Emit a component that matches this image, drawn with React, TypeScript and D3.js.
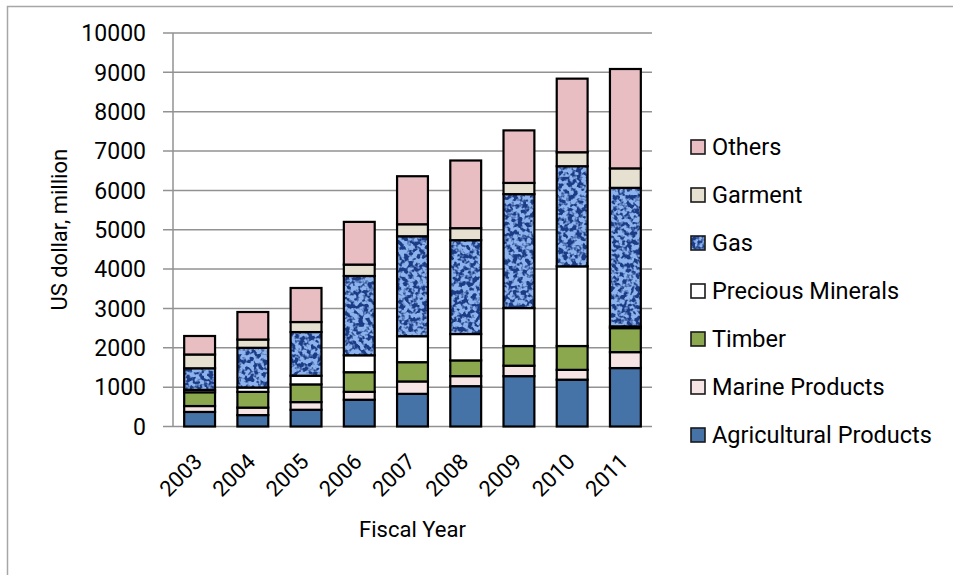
import React from 'react';
import * as d3 from 'd3';

const years = ['2003', '2004', '2005', '2006', '2007', '2008', '2009', '2010', '2011'];
const agricultural = [370, 290, 425, 680, 830, 1025, 1280, 1190, 1485];
const marine = [150, 190, 195, 200, 315, 255, 265, 250, 405];
const timber = [350, 400, 450, 500, 490, 400, 500, 605, 610];
const precious = [60, 110, 220, 430, 660, 670, 965, 2025, 45];
const gas = [550, 1010, 1110, 2015, 2540, 2385, 2895, 2545, 3520];
const garment = [350, 210, 255, 290, 305, 305, 285, 355, 495];
const others = [470, 700, 865, 1085, 1220, 1720, 1335, 1870, 2525];
const yTicks = [0, 1000, 2000, 3000, 4000, 5000, 6000, 7000, 8000, 9000, 10000];

const seriesKeys = ['Agricultural Products', 'Marine Products', 'Timber', 'Precious Minerals', 'Gas', 'Garment', 'Others'];
const seriesValues = [agricultural, marine, timber, precious, gas, garment, others];
const seriesFills = ['#4573a7', '#f7e5e5', '#8ca84f', '#ffffff', 'url(#gas)', '#e6e0d0', '#e9bec2'];

const FONT = 'Roboto, "Open Sans", sans-serif';

export default function App() {
  const left = 173, right = 652, top = 33, bottom = 426.5;
  const x = d3.scaleBand<string>().domain(years).range([left, right]).paddingInner(0.42).paddingOuter(0.21);
  const y = d3.scaleLinear().domain([0, 10000]).range([bottom, top]);

  const table = years.map((yr, i) => {
    const row: any = { year: yr };
    seriesKeys.forEach((k, j) => (row[k] = seriesValues[j][i]));
    return row;
  });
  const stacked = d3.stack<any>().keys(seriesKeys)(table);

  const legendOrder = [...seriesKeys].reverse();

  return (
    <svg width={953} height={575} style={{ position: 'absolute', left: 0, top: 0, background: '#fff' }}>
      <defs>
        <filter id="gasTex" x="0" y="0" width="1" height="1" filterUnits="objectBoundingBox" colorInterpolationFilters="sRGB">
          <feFlood floodColor="#8db3ec" result="bg" />
          <feTurbulence type="fractalNoise" baseFrequency="0.22" numOctaves={2} seed={7} result="noise" />
          <feColorMatrix in="noise" type="matrix" values="0 0 0 0 0.11  0 0 0 0 0.23  0 0 0 0 0.52  5.5 0 0 0 -2.35" result="dark" />
          <feMerge>
            <feMergeNode in="bg" />
            <feMergeNode in="dark" />
          </feMerge>
        </filter>
      </defs>
      <rect x={7.5} y={6.5} width={1200} height={1200} fill="none" stroke="#a6a6a6" strokeWidth={1.5} />

      {yTicks.map((t) => (
        <g key={t}>
          <line x1={left - 10} x2={right} y1={y(t)} y2={y(t)} stroke="#929292" strokeWidth={1.5} />
          <text x={146} y={y(t)} dy="0.36em" textAnchor="end" fontFamily={FONT} fontSize={23} fill="#000">
            {t}
          </text>
        </g>
      ))}
      <line x1={left} x2={left} y1={top} y2={bottom} stroke="#929292" strokeWidth={1.5} />

      {stacked.map((s, j) => (
        <g key={s.key}>
          {s.map((d, i) => {
            const bx = x(years[i])!;
            const bw = x.bandwidth();
            const y0 = y(d[1]);
            const h = y(d[0]) - y(d[1]);
            return (
              <g key={i}>
                {j === 4 ? (
                  <rect x={bx} y={y0} width={bw} height={h} fill="#5a82c0" filter="url(#gasTex)" />
                ) : (
                  <rect x={bx} y={y0} width={bw} height={h} fill={seriesFills[j]} />
                )}
                <rect x={bx} y={y0} width={bw} height={h} fill="none" stroke="#000" strokeWidth={2.2} />
              </g>
            );
          })}
        </g>
      ))}

      {years.map((yr) => {
        const cx = x(yr)! + x.bandwidth() / 2;
        return (
          <text key={yr} transform={`translate(${cx + 4},${463}) rotate(-45)`} textAnchor="end" fontFamily={FONT} fontSize={22} fill="#000">
            {yr}
          </text>
        );
      })}

      <text x={(left + right) / 2} y={537} textAnchor="middle" fontFamily={FONT} fontSize={22} fill="#000">
        Fiscal Year
      </text>
      <text transform={`translate(67,${(top + bottom) / 2}) rotate(-90)`} textAnchor="middle" fontFamily={FONT} fontSize={22} fill="#000">
        US dollar, million
      </text>

      {legendOrder.map((k, i) => {
        const j = seriesKeys.indexOf(k);
        const cy = 147 + i * 48;
        return (
          <g key={k}>
            {j === 4 ? (
              <rect x={691} y={cy - 7} width={14} height={14} fill="#5a82c0" filter="url(#gasTex)" />
            ) : (
              <rect x={691} y={cy - 7} width={14} height={14} fill={seriesFills[j]} />
            )}
            <rect x={691} y={cy - 7} width={14} height={14} fill="none" stroke="#1a1a1a" strokeWidth={1.6} />
            <text x={712} y={cy} dy="0.36em" fontFamily={FONT} fontSize={23.5} fill="#000">
              {k}
            </text>
          </g>
        );
      })}
    </svg>
  );
}
